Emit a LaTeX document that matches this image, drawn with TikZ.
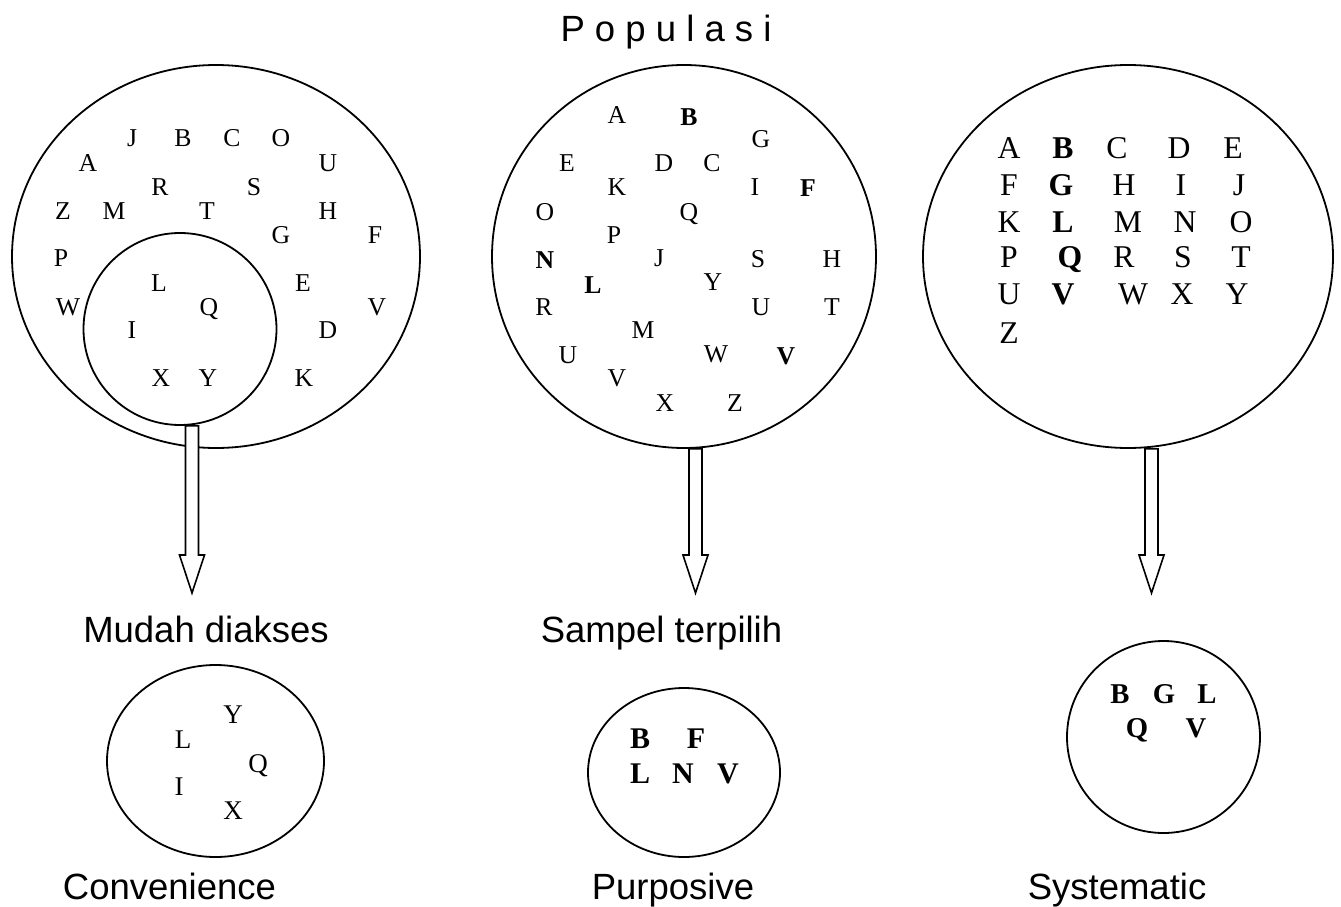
\documentclass[tikz,border=0pt]{standalone}
\usepackage{fontspec}
\setmainfont{Liberation Serif}
\setsansfont{Liberation Sans}
\usetikzlibrary{shapes.geometric,calc}

% panah blok: dari node (#1) turun ke ujung (#2)
\newcommand{\panahblok}[2]{%
  \draw[panah] let \p1=(#1), \p2=(#2) in
    (\x2-6.5pt,\y1) -- (\x2-6.5pt,\y2+38pt) -- (\x2-12.5pt,\y2+38pt) -- (\x2,\y2)
    -- (\x2+12.5pt,\y2+38pt) -- (\x2+6.5pt,\y2+38pt) -- (\x2+6.5pt,\y1) -- cycle;}

\begin{document}
\begin{tikzpicture}[x=1pt,y=-1pt,line width=1.8pt,
    lingkaran/.style={draw,ellipse,inner sep=0pt},
    panah/.style={draw,fill=white,line width=1.6pt,line join=miter},
    judul/.style={font=\sffamily\fontsize{36.5}{40}\selectfont,anchor=base,inner sep=0pt},
    huruf/.style={inner sep=0pt,text depth=0pt},
    hrfkecil/.style={huruf,font=\fontsize{25.7}{30}\selectfont,text height=17pt},
    hrfkeciltebal/.style={huruf,font=\bfseries\fontsize{25.7}{30}\selectfont,text height=17pt},
    hrfbesar/.style={huruf,font=\fontsize{31.7}{36}\selectfont,text height=21pt},
    hrfbesartebal/.style={huruf,font=\bfseries\fontsize{31.7}{36}\selectfont,text height=21pt},
    sampelA/.style={huruf,font=\fontsize{27}{30}\selectfont,text height=18pt},
    sampelB/.style={huruf,font=\bfseries\fontsize{30}{34}\selectfont,text height=20pt},
    sampelC/.style={huruf,font=\bfseries\fontsize{28.7}{32}\selectfont,text height=19pt}]
    \useasboundingbox (0,0) rectangle (1341,907);

    % Populasi
    \node[judul] (populasi) at (666,42) {P o p u l a s i};
    \node[lingkaran,minimum width=408pt,minimum height=383pt] (popA) at (216,256.5) {};
    \node[lingkaran,minimum width=193pt,minimum height=192pt] (akses) at (180,329) {};
    \node[lingkaran,minimum width=384pt,minimum height=383pt] (popB) at (684,256.5) {};
    \node[lingkaran,minimum width=410pt,minimum height=383pt] (popC) at (1128,256.5) {};

    % Sampel
    \node[lingkaran,minimum width=217pt,minimum height=192pt] (smpA) at (215.5,761) {};
    \node[lingkaran,minimum width=192pt,minimum height=169pt] (smpB) at (684,772.5) {};
    \node[lingkaran,minimum width=193pt,minimum height=192pt] (smpC) at (1163.5,737) {};

    % Panah
    \coordinate (ujungA) at (192,593);
    \coordinate (ujungB) at (695.5,593);
    \coordinate (ujungC) at (1151.5,593);
    \panahblok{akses.south}{ujungA}
    \panahblok{popB.south}{ujungB}
    \panahblok{popC.south}{ujungC}

    % Huruf convenience
    \foreach \h/\x/\y [count=\i] in {J/132/138,B/183/138,C/232/138,O/281/138,A/88/163,U/328/163,
        R/160/187,S/254/187,Z/63/211,M/114/211,T/207/211,H/328/211,G/281/235,F/375/235,
        P/61/258,L/159/283,E/303/283,W/68/307,Q/209/307,V/377/307,I/132/330,D/328/330,
        X/161/378,Y/208/378,K/304/378}
        \node[hrfkecil] (a\i) at (\x,\y) {\h};

    % Huruf purposive
    \foreach \h/\x/\y [count=\i] in {A/617/115,G/761/139,E/567/163,D/664/163,C/712/163,
        K/617/187,I/755/187,O/545/212,Q/689/212,P/614/235,J/659/258,S/758/259,H/832/259,
        Y/713/282,R/544/307,U/761/307,T/832/307,M/643/330,U/568/355,W/716/354,V/617/378,
        X/665/403,Z/735/403}
        \node[hrfkecil] (b\i) at (\x,\y) {\h};
    \foreach \h/\x/\y [count=\i] in {B/689/117,F/808/188,N/545/260,L/593/285,V/786/356}
        \node[hrfkeciltebal] (bb\i) at (\x,\y) {\h};

    % Huruf systematic
    \foreach \h/\x/\y [count=\i] in {A/1009/148,C/1117/148,D/1179/148,E/1233/148,
        F/1009/185,H/1124/185,I/1181/185,J/1239/185,K/1009/222,M/1128/222,N/1185/222,O/1241/222,
        P/1009/257,R/1124/257,S/1183/257,T/1241/257,U/1009/294,W/1133/294,X/1182/294,Y/1237/294,
        Z/1009/333}
        \node[hrfbesar] (c\i) at (\x,\y) {\h};
    \foreach \h/\x/\y [count=\i] in {B/1063/148,G/1061/185,L/1063/222,Q/1070/257,V/1063/294}
        \node[hrfbesartebal] (cc\i) at (\x,\y) {\h};

    % Isi sampel
    \foreach \h/\x/\y [count=\i] in {Y/233/714,L/183/739,Q/258/763,I/179/786,X/233/810}
        \node[sampelA] (sa\i) at (\x,\y) {\h};
    \foreach \h/\x/\y [count=\i] in {B/640/738,F/696/738,L/640/773,N/683/773,V/728/773}
        \node[sampelB] (sb\i) at (\x,\y) {\h};
    \foreach \h/\x/\y [count=\i] in {B/1120/694,G/1164/694,L/1207/694,Q/1137/728,V/1196/728}
        \node[sampelC] (sc\i) at (\x,\y) {\h};

    % Keterangan
    \node[judul] (ketA) at (206,642) {Mudah diakses};
    \node[judul] (ketB) at (661.5,642) {Sampel terpilih};
    \node[judul] (jnsA) at (169.5,899) {Convenience};
    \node[judul] (jnsB) at (673,899) {Purposive};
    \node[judul] (jnsC) at (1117,899) {Systematic};
\end{tikzpicture}
\end{document}
